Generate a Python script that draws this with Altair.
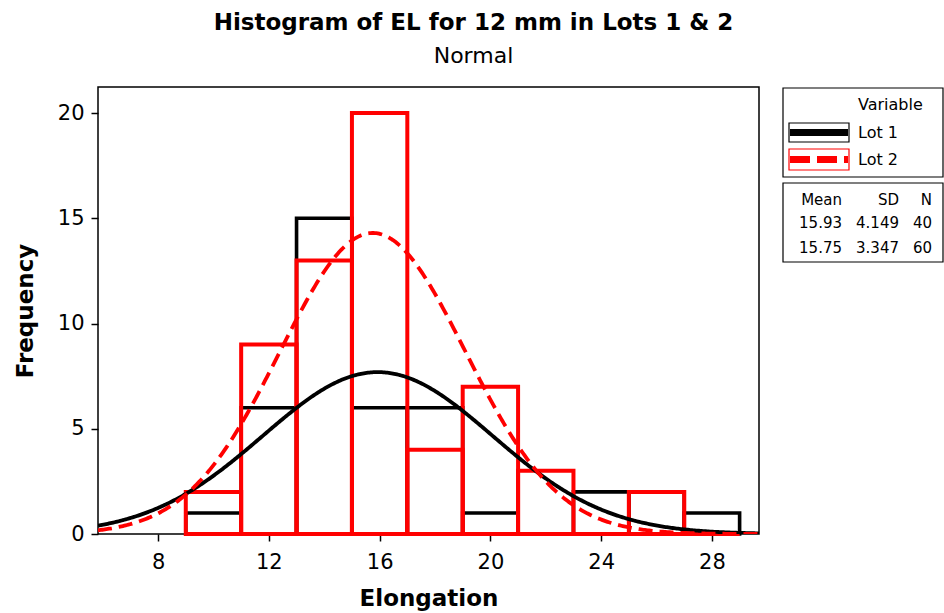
import altair as alt
import pandas as pd

# ---- data ----
bin_starts = [9, 11, 13, 15, 17, 19, 21, 23, 25, 27]
bin_width = 2
lot1_counts = [1, 6, 15, 6, 6, 1, 0, 2, 2, 1]
lot2_counts = [2, 9, 13, 20, 4, 7, 3, 0, 2, 0]
variables = ["Lot 1", "Lot 2"]
means = [15.93, 15.75]
sds = [4.149, 3.347]
ns = [40, 60]
colors = ["black", "#ff0000"]
x_ticks = [8, 12, 16, 20, 24, 28]
y_ticks = [0, 5, 10, 15, 20]
x_domain = [5.83, 29.7]
y_domain = [0, 21.24]

FONT = "DejaVu Sans"
W, H = 661, 447

xs = alt.Scale(domain=x_domain, nice=False, zero=False)
ys = alt.Scale(domain=y_domain, nice=False, zero=False)

x_axis = alt.Axis(values=x_ticks, title="Elongation", titleY=71, titleBaseline="alphabetic",
                  labelPadding=10)
y_axis = alt.Axis(values=y_ticks, title="Frequency", titleX=-66, titleBaseline="alphabetic",
                  labelPadding=7)


def hist_layer(counts, color, width):
    df = pd.DataFrame({
        "start": bin_starts,
        "end": [b + bin_width for b in bin_starts],
        "count": counts,
    })
    df["zero"] = 0
    return alt.Chart(df).mark_rect(fillOpacity=0, stroke=color, strokeWidth=width).encode(
        x=alt.X("start:Q", scale=xs, axis=x_axis),
        x2="end:Q",
        y=alt.Y("count:Q", scale=ys, axis=y_axis),
        y2="zero:Q",
    )


def curve_layer(i, dash=None):
    expr = f"{ns[i]} * {bin_width} * densityNormal(datum.x, {means[i]}, {sds[i]})"
    kw = dict(stroke=colors[i], strokeWidth=3.8, clip=True)
    if dash:
        kw["strokeDash"] = dash
    return alt.Chart(alt.sequence(x_domain[0], x_domain[1] + 0.05, 0.05, as_="x")).transform_calculate(
        dens=expr
    ).mark_line(**kw).encode(
        x=alt.X("x:Q", scale=xs, axis=x_axis),
        y=alt.Y("dens:Q", scale=ys, axis=y_axis),
    )


one = pd.DataFrame({"k": [0]})


def box(x1, x2, y1, y2, color="black", sw=1.2):
    return alt.Chart(one).mark_rect(fillOpacity=0, stroke=color, strokeWidth=sw).encode(
        x=alt.value(x1), x2=alt.value(x2), y=alt.value(y1), y2=alt.value(y2)
    )


def label(txt, x, y, size=16, align="left"):
    return alt.Chart(one).mark_text(
        text=txt, font=FONT, fontSize=size, align=align, baseline="middle", color="black"
    ).encode(x=alt.value(x), y=alt.value(y))


def sym_line(x1, x2, y, color, dash=None):
    kw = dict(color=color, strokeWidth=7)
    if dash:
        kw["strokeDash"] = dash
    return alt.Chart(one).mark_rule(**kw).encode(
        x=alt.value(x1), x2=alt.value(x2), y=alt.value(y)
    )


legend_layers = [
    box(685, 845, 1, 90),
    label("Variable", 760, 18),
    box(691, 751, 36, 55, colors[0]),
    sym_line(692, 750, 45.5, colors[0]),
    label(variables[0], 760, 46),
    box(691, 751, 62, 83, colors[1]),
    sym_line(692, 750, 72.5, colors[1], [20, 7]),
    label(variables[1], 760, 73),
    box(685, 845, 96, 175),
    label("Mean", 744, 113, 15, "right"),
    label("SD", 801, 113, 15, "right"),
    label("N", 834, 113, 15, "right"),
]
row_y = [136, 161]
for i in range(2):
    legend_layers += [
        label(f"{means[i]:.2f}", 744, row_y[i], 15, "right"),
        label(f"{sds[i]:.3f}", 801, row_y[i], 15, "right"),
        label(f"{ns[i]}", 834, row_y[i], 15, "right"),
    ]

chart = alt.layer(
    hist_layer(lot1_counts, colors[0], 3.6),
    hist_layer(lot2_counts, colors[1], 4),
    curve_layer(0),
    curve_layer(1, [14, 7]),
    *legend_layers,
).properties(
    width=W,
    height=H,
    title=alt.TitleParams(
        text="Histogram of EL for 12 mm in Lots 1 & 2",
        subtitle="Normal",
        font=FONT,
        fontSize=23,
        fontWeight="bold",
        color="black",
        subtitleFont=FONT,
        subtitleFontSize=22,
        subtitleColor="black",
        subtitlePadding=11,
        anchor="middle",
        dx=45,
        offset=20,
    ),
    autosize=alt.AutoSizeParams(type="none"),
    padding={"left": 98, "top": 87, "right": 185, "bottom": 79},
).configure(
    background="white"
).configure_view(
    stroke="black", strokeWidth=1.5
).configure_axis(
    labelFont=FONT,
    labelFontSize=21,
    labelColor="black",
    tickColor="black",
    tickSize=7,
    tickWidth=1.5,
    domain=False,
    grid=False,
    titleFont=FONT,
    titleFontSize=23,
    titleFontWeight="bold",
    titleColor="black",
)

chart.save("out.html", embed_options={"renderer": "svg", "actions": False})
